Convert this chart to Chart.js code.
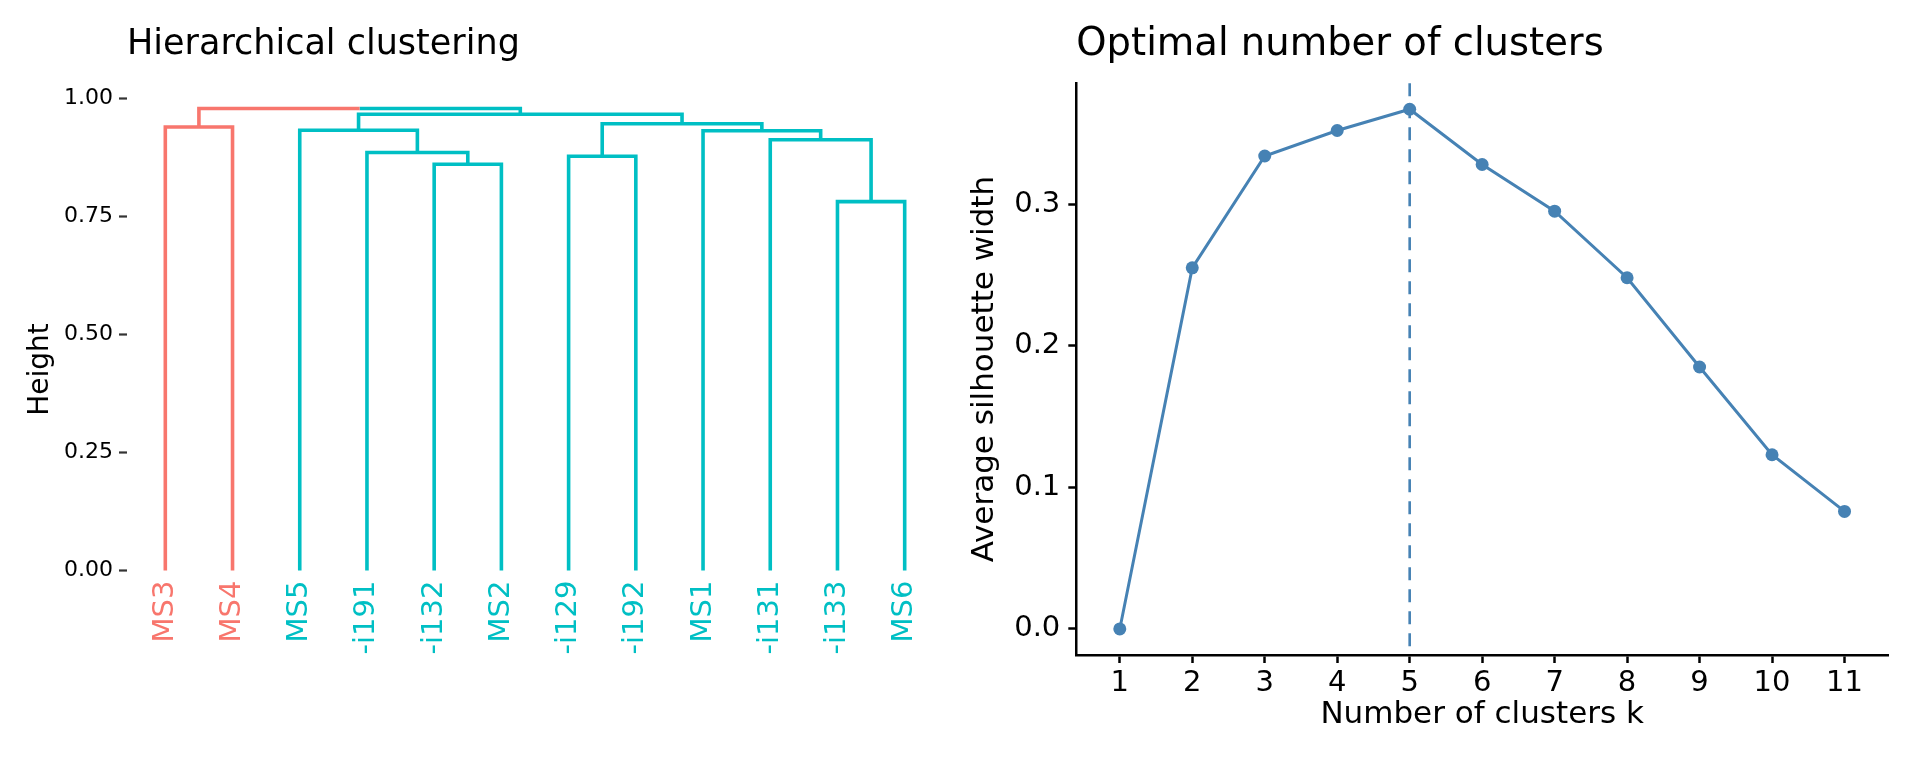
<!DOCTYPE html>
<html>
<head>
<meta charset="utf-8">
<title>Hierarchical clustering / Optimal number of clusters</title>
<script src="https://cdn.jsdelivr.net/npm/chart.js@4.4.1/dist/chart.umd.min.js"></script>
<style>
  html, body { margin: 0; padding: 0; background: #fff; }
  #wrap { position: relative; width: 1920px; height: 768px; overflow: hidden; }
  canvas { position: absolute; top: 0; }
  #dendro { left: 0; }
  #sil { left: 960px; }
</style>
</head>
<body>
<div id="wrap">
  <canvas id="dendro" width="960" height="768"></canvas>
  <canvas id="sil" width="960" height="768"></canvas>
</div>
<script>
// Dendrogram: leaves in plotted order, and the merges (children are leaf names or earlier merges m1, m2, ...)
const leafLabels = ['MS3', 'MS4', 'MS5', '-i191', '-i132', 'MS2', '-i129', '-i192', 'MS1', '-i131', '-i133', 'MS6'];
const leafCluster = [1, 1, 2, 2, 2, 2, 2, 2, 2, 2, 2, 2];
const mergeLeft   = ['-i133', '-i132', '-i129', '-i191', '-i131', 'MS5', 'MS1', 'MS3', 'm3', 'm6', 'm8'];
const mergeRight  = ['MS6', 'MS2', '-i192', 'm2', 'm1', 'm4', 'm5', 'MS4', 'm7', 'm9', 'm10'];
const mergeHeight = [0.781, 0.860, 0.877, 0.885, 0.912, 0.932, 0.931, 0.939, 0.946, 0.966, 0.978];
const heightTicks = [0, 0.25, 0.5, 0.75, 1.0];

// Silhouette analysis
const kValues = [1, 2, 3, 4, 5, 6, 7, 8, 9, 10, 11];
const silWidth = [0.0, 0.255, 0.334, 0.352, 0.367, 0.328, 0.295, 0.248, 0.185, 0.123, 0.083];
const silTicks = [0, 0.1, 0.2, 0.3];

const clusterColors = { 1: '#F8766D', 2: '#00BFC4' };
const lineBlue = '#4682B4';
const FONT = 'DejaVu Sans';

// Build the dendrogram elbows from the merge table
const nodes = {};
leafLabels.forEach((name, i) => {
    nodes[name] = { x: i + 1, y: 0, clusters: [leafCluster[i]] };
});
const dendroSegments = [];
mergeLeft.forEach((left, i) => {
    const a = nodes[left];
    const b = nodes[mergeRight[i]];
    const h = mergeHeight[i];
    const mid = (a.x + b.x) / 2;
    const clusters = [...new Set(a.clusters.concat(b.clusters))];
    if (clusters.length === 1) {
        dendroSegments.push({ cluster: clusters[0], points: [
            { x: a.x, y: a.y }, { x: a.x, y: h }, { x: b.x, y: h }, { x: b.x, y: b.y }] });
    } else {
        // top branch joins two clusters: each half takes its child's colour
        dendroSegments.push({ cluster: a.clusters[0], points: [
            { x: a.x, y: a.y }, { x: a.x, y: h }, { x: mid, y: h }] });
        dendroSegments.push({ cluster: b.clusters[0], points: [
            { x: mid, y: h }, { x: b.x, y: h }, { x: b.x, y: b.y }] });
    }
    nodes['m' + (i + 1)] = { x: mid, y: h, clusters: clusters };
});

// leaf labels, rotated, under the zero line
const leafLabelPlugin = {
    id: 'leafLabels',
    afterDatasetsDraw(chart) {
        const { ctx, scales } = chart;
        const y0 = scales.y.getPixelForValue(0) + 10;
        ctx.save();
        ctx.font = '29px "' + FONT + '"';
        ctx.textAlign = 'right';
        ctx.textBaseline = 'middle';
        leafLabels.forEach((label, i) => {
            const x = scales.x.getPixelForValue(i + 1);
            ctx.save();
            ctx.translate(x, y0);
            ctx.rotate(-Math.PI / 2);
            ctx.fillStyle = clusterColors[leafCluster[i]];
            ctx.fillText(label, 0, 0);
            ctx.restore();
        });
        ctx.restore();
    }
};

new Chart(document.getElementById('dendro').getContext('2d'), {
    type: 'line',
    data: {
        datasets: dendroSegments.map(seg => ({
            data: seg.points,
            borderColor: clusterColors[seg.cluster],
            borderWidth: 3.6,
            borderJoinStyle: 'miter',
            pointRadius: 0,
            fill: false,
            tension: 0
        }))
    },
    options: {
        responsive: false,
        animation: false,
        layout: { padding: { left: 0, right: 17, top: 0, bottom: 113 } },
        plugins: {
            legend: { display: false },
            tooltip: { enabled: false },
            title: {
                display: true,
                text: 'Hierarchical clustering',
                align: 'start',
                fullSize: false,
                color: '#000',
                font: { family: FONT, size: 35, weight: 'normal' },
                padding: { top: 24, bottom: 18 }
            }
        },
        scales: {
            x: {
                type: 'linear',
                display: false,
                min: 0.43,
                max: 12.57
            },
            y: {
                type: 'linear',
                min: -0.1786,
                max: 1.03,
                afterBuildTicks: s => { s.ticks = heightTicks.map(v => ({ value: v })); },
                afterFit: s => { s.width = 127; },
                border: { display: false },
                grid: { drawOnChartArea: false, tickLength: 8, tickColor: '#333', tickWidth: 2.2 },
                ticks: {
                    color: '#000',
                    padding: 6,
                    font: { family: FONT, size: 22 },
                    callback: v => v.toFixed(2)
                },
                title: {
                    display: true,
                    text: 'Height',
                    color: '#000',
                    font: { family: FONT, size: 28 },
                    padding: { top: 24 }
                }
            }
        }
    },
    plugins: [leafLabelPlugin]
});

// dashed line at the k with the largest average silhouette
const optimalK = kValues[silWidth.indexOf(Math.max(...silWidth))];
const vlinePlugin = {
    id: 'vline',
    beforeDatasetsDraw(chart) {
        const { ctx, chartArea, scales } = chart;
        const x = scales.x.getPixelForValue(optimalK);
        ctx.save();
        ctx.strokeStyle = lineBlue;
        ctx.lineWidth = 2.6;
        ctx.setLineDash([13, 9]);
        ctx.beginPath();
        ctx.moveTo(x, chartArea.top);
        ctx.lineTo(x, chartArea.bottom);
        ctx.stroke();
        ctx.restore();
    }
};

new Chart(document.getElementById('sil').getContext('2d'), {
    type: 'line',
    data: {
        datasets: [{
            data: kValues.map((k, i) => ({ x: k, y: silWidth[i] })),
            borderColor: lineBlue,
            borderWidth: 3,
            pointRadius: 6.5,
            pointBackgroundColor: lineBlue,
            pointBorderWidth: 0,
            fill: false,
            tension: 0
        }]
    },
    options: {
        responsive: false,
        animation: false,
        layout: { padding: { left: 0, right: 32, top: 0, bottom: 0 } },
        plugins: {
            legend: { display: false },
            tooltip: { enabled: false },
            title: {
                display: true,
                text: 'Optimal number of clusters',
                align: 'start',
                fullSize: false,
                color: '#000',
                font: { family: FONT, size: 38.5, weight: 'normal' },
                padding: { top: 22, bottom: 15 }
            }
        },
        scales: {
            x: {
                type: 'linear',
                min: 0.4,
                max: 11.6,
                afterBuildTicks: s => { s.ticks = kValues.map(v => ({ value: v })); },
                afterFit: s => { s.height = 113; },
                border: { display: true, color: '#000', width: 2.5 },
                grid: { drawOnChartArea: false, tickLength: 8, tickColor: '#000', tickWidth: 2.5 },
                ticks: {
                    color: '#000',
                    padding: 3,
                    autoSkip: false,
                    maxRotation: 0,
                    font: { family: FONT, size: 29 },
                    callback: v => String(v)
                },
                title: {
                    display: true,
                    text: 'Number of clusters k',
                    color: '#000',
                    font: { family: FONT, size: 31 },
                    padding: { bottom: 34 }
                }
            },
            y: {
                type: 'linear',
                min: -0.0184,
                max: 0.3854,
                afterBuildTicks: s => { s.ticks = silTicks.map(v => ({ value: v })); },
                afterFit: s => { s.width = 116.3; },
                border: { display: true, color: '#000', width: 2.5 },
                grid: { drawOnChartArea: false, tickLength: 8, tickColor: '#000', tickWidth: 2.5 },
                ticks: {
                    color: '#000',
                    padding: 8,
                    font: { family: FONT, size: 29 },
                    callback: v => v.toFixed(1)
                },
                title: {
                    display: true,
                    text: 'Average silhouette width',
                    color: '#000',
                    font: { family: FONT, size: 31 },
                    padding: { top: 6 }
                }
            }
        }
    },
    plugins: [vlinePlugin]
});
</script>
</body>
</html>
